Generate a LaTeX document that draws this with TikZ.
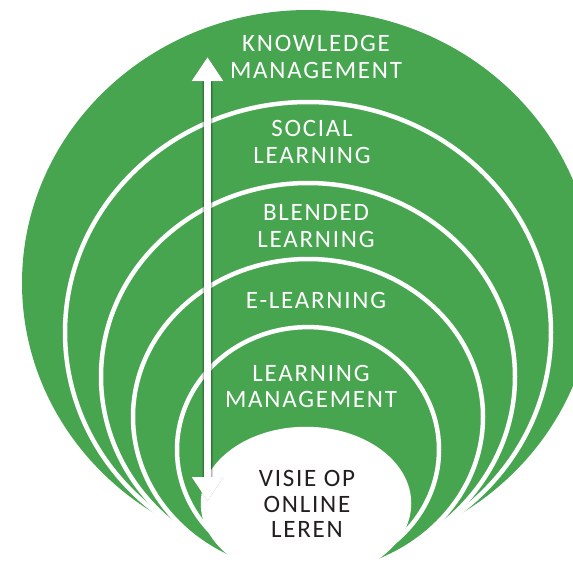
\documentclass[tikz,border=0pt]{standalone}
\usepackage{fontspec}
\setmainfont{Carlito}[LetterSpace=7]
\usetikzlibrary{arrows.meta}
\definecolor{ringgreen}{RGB}{71,165,80}
\definecolor{darktext}{RGB}{35,31,32}
\tikzset{
  ring/.style={fill=ringgreen, draw=white, line width=4.5pt},
  core/.style={fill=white, draw=white, line width=4.5pt},
  lbl/.style={text=white, font=\fontsize{25}{26.5}\selectfont, align=center, inner sep=0pt},
  corelbl/.style={lbl, text=darktext, font=\fontsize{25}{25.5}\selectfont},
  arrowmain/.style={draw=white, line width=7pt, {Triangle[width=30pt,length=24pt]}-{Triangle[width=30pt,length=24pt]}},
  arrowshade/.style={draw=black, fill=black, line width=#1, {Triangle[width=30pt,length=24pt]}-{Triangle[width=30pt,length=24pt]}}
}
\begin{document}
\begin{tikzpicture}[x=1pt,y=-1pt]
\useasboundingbox (0,0) rectangle (573,565);
\begin{scope}
\clip (0,0) rectangle (573,565);
\fill[ringgreen] (308,283) ellipse [x radius=286pt, y radius=273pt];
\filldraw[ring] (308,332.4) ellipse [x radius=243pt, y radius=230.4pt];
\filldraw[ring] (308,376.6) ellipse [x radius=207pt, y radius=193.6pt];
\filldraw[ring] (308,416.8) ellipse [x radius=175pt, y radius=157.8pt];
\filldraw[ring] (308,449.7) ellipse [x radius=131pt, y radius=122.6pt];
\filldraw[core] (306,503.4) ellipse [x radius=103pt, y radius=74.4pt];
\end{scope}
% arrow shadow
\coordinate (top) at (207.5,57);
\coordinate (bot) at (207.5,501);
\foreach \s/\w/\o in {5/11pt/0.12,3.5/9pt/0.16,2/7pt/0.22}{
  \begin{scope}[transparency group, opacity=\o, shift={(\s,\s)}]
    \draw[arrowshade=\w] (top) -- (bot);
  \end{scope}
}
\draw[arrowmain] (top) -- (bot);
\node[lbl] (km) at (316,57) {KNOWLEDGE\\MANAGEMENT};
\node[lbl] (sl) at (312,142) {SOCIAL\\LEARNING};
\node[lbl] (bl) at (316,226) {BLENDED\\LEARNING};
\node[lbl] (el) at (316,300.5) {E-LEARNING};
\node[lbl] (lm) at (311,386.5) {LEARNING\\MANAGEMENT};
\node[corelbl] (vo) at (307,504) {VISIE OP\\ONLINE\\LEREN};
\end{tikzpicture}
\end{document}
